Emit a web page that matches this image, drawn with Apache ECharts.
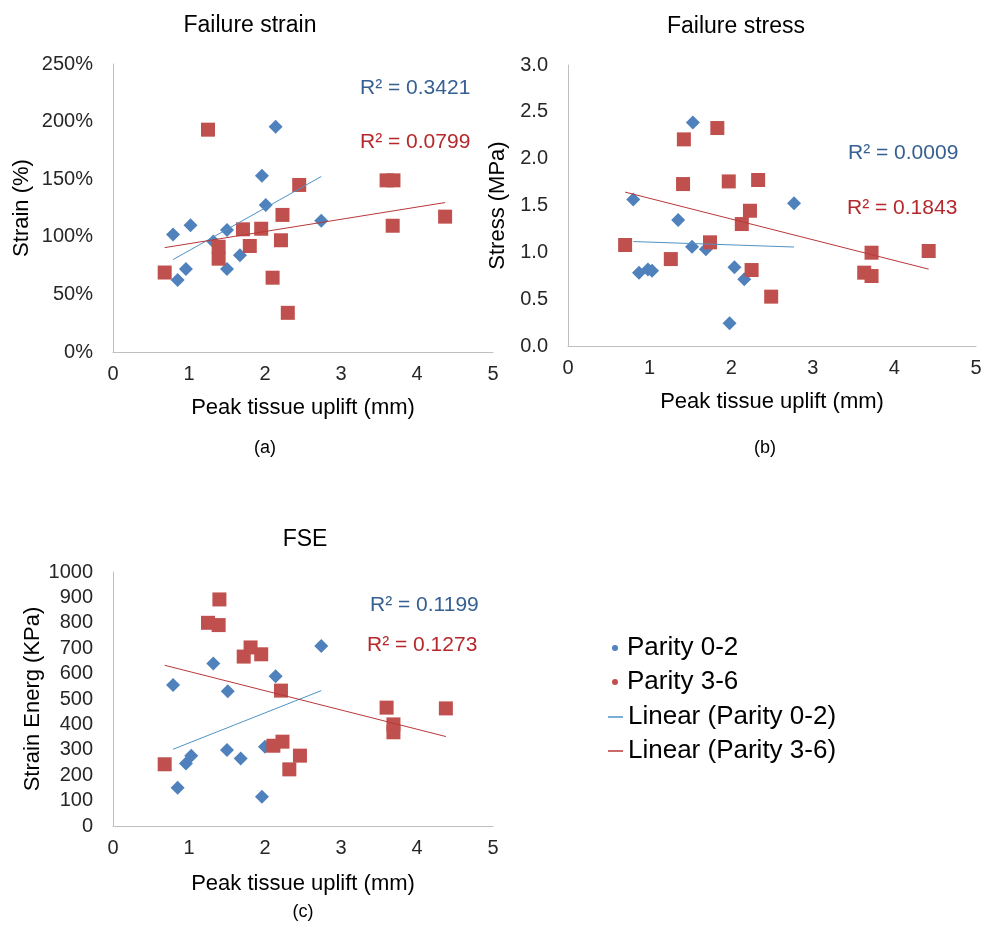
<!DOCTYPE html>
<html>
<head>
<meta charset="utf-8">
<script src="https://cdn.jsdelivr.net/npm/echarts@6/dist/echarts.min.js"></script>
<style>
  html, body { margin: 0; padding: 0; background: #fff; }
  #chart { width: 992px; height: 929px; }
</style>
</head>
<body>
<div id="chart"></div>
<script>
// Peak tissue uplift (mm) vs failure measures, two parity groups
const strainBlue = [[0.79,102],[1.02,110],[0.85,62.5],[0.96,72],[1.32,96],[1.50,106],[1.50,72],[1.67,84],[1.96,153],[2.01,127.6],[2.14,195.6],[2.74,114]];
const strainRed = [[0.68,69],[1.25,193],[1.39,91.4],[1.39,81],[1.71,106.5],[1.80,92],[1.95,107],[2.10,64.5],[2.21,97],[2.23,119],[2.30,34],[2.45,145],[3.60,149],[3.69,149],[3.68,109.6],[4.37,117.5]];

const stressBlue = [[0.80,1.565],[0.87,0.783],[0.98,0.818],[1.03,0.804],[1.35,1.345],[1.53,2.387],[1.52,1.06],[1.69,1.032],[1.98,0.242],[2.04,0.84],[2.16,0.712],[2.77,1.523]];
const stressRed = [[0.70,1.078],[1.26,0.928],[1.42,2.206],[1.41,1.729],[1.74,1.107],[1.83,2.327],[1.97,1.757],[2.13,1.302],[2.23,1.444],[2.25,0.811],[2.33,1.772],[2.49,0.527],[3.63,0.783],[3.72,0.747],[3.72,0.996],[4.42,1.014]];

const energyBlue = [[0.79,555],[0.85,151],[0.96,246],[1.03,277],[1.32,640],[1.51,531],[1.50,299],[1.68,266],[1.96,115],[2.00,312],[2.14,590],[2.74,709]];
const energyRed = [[0.68,243],[1.25,800],[1.40,892],[1.39,791],[1.72,667],[1.81,703],[1.95,676],[2.11,316],[2.23,332],[2.21,533],[2.32,223],[2.46,277],[3.60,466],[3.69,400],[3.69,369],[4.38,463]];

const panelTitles = ['Failure strain', 'Failure stress', 'FSE'];
const panelTags = ['(a)', '(b)', '(c)'];
const yNames = ['Strain (%)', 'Stress (MPa)', 'Strain Energ (KPa)'];
const xName = 'Peak tissue uplift (mm)';
const r2Blue = ['0.3421', '0.0009', '0.1199'];
const r2Red = ['0.0799', '0.1843', '0.1273'];
const seriesNames = ['Parity 0-2', 'Parity 3-6', 'Linear (Parity 0-2)', 'Linear (Parity 3-6)'];

const FONT = '"Liberation Sans", Arial, sans-serif';
const BLUE = '#4f81bd';
const RED = '#c0504d';
const BLUE_LINE = '#4f93c6';
const RED_LINE = '#b8383a';
const BLUE_TXT = '#376092';
const RED_TXT = '#b5282b';
const AXIS_GRAY = '#bfbfbf';

// least-squares line across the x-range of the points
function trend(points) {
  const n = points.length;
  let sx = 0, sy = 0;
  points.forEach(p => { sx += p[0]; sy += p[1]; });
  const mx = sx / n, my = sy / n;
  let sxy = 0, sxx = 0;
  points.forEach(p => { sxy += (p[0] - mx) * (p[1] - my); sxx += (p[0] - mx) * (p[0] - mx); });
  const b = sxy / sxx, a = my - b * mx;
  const xs = points.map(p => p[0]);
  const x0 = Math.min(...xs), x1 = Math.max(...xs);
  return [[x0, a + b * x0], [x1, a + b * x1]];
}

const grids = [
  { left: 113, top: 64, width: 380, height: 288 },
  { left: 568, top: 65, width: 408, height: 281 },
  { left: 113, top: 572, width: 380, height: 254 }
];

const yAxes = [
  { min: 0, max: 250, interval: 50, fmt: v => v + '%', gap: 80 },
  { min: 0, max: 3, interval: 0.5, fmt: v => v.toFixed(1), gap: 59 },
  { min: 0, max: 1000, interval: 100, fmt: v => String(v), gap: 69 }
];

const panelData = [[strainBlue, strainRed], [stressBlue, stressRed], [energyBlue, energyRed]];

const tickText = { fontFamily: FONT, fontSize: 20, color: '#262626' };
const nameText = { fontFamily: FONT, fontSize: 22, color: '#000' };

const xAxis = grids.map((g, i) => ({
  type: 'value', gridIndex: i, min: 0, max: 5, interval: 1,
  name: xName, nameLocation: 'middle', nameGap: i === 2 ? 47 : 45,
  nameTextStyle: nameText,
  axisLine: { lineStyle: { color: AXIS_GRAY, width: 1 } },
  axisTick: { show: false }, splitLine: { show: false },
  axisLabel: Object.assign({ margin: 12 }, tickText)
}));

const yAxis = grids.map((g, i) => ({
  type: 'value', gridIndex: i, min: yAxes[i].min, max: yAxes[i].max, interval: yAxes[i].interval,
  name: yNames[i], nameLocation: 'middle', nameGap: yAxes[i].gap, nameRotate: 90,
  nameTextStyle: nameText,
  axisLine: { show: true, lineStyle: { color: AXIS_GRAY, width: 1 } },
  axisTick: { show: false }, splitLine: { show: false },
  axisLabel: Object.assign({ margin: 20, formatter: yAxes[i].fmt }, tickText)
}));

const series = [];
panelData.forEach((pair, i) => {
  series.push({
    name: seriesNames[0], type: 'scatter', xAxisIndex: i, yAxisIndex: i,
    symbol: 'diamond', symbolSize: 14, itemStyle: { color: BLUE, opacity: 1 },
    data: pair[0], z: 2
  });
  series.push({
    name: seriesNames[1], type: 'scatter', xAxisIndex: i, yAxisIndex: i,
    symbol: 'rect', symbolSize: 14, itemStyle: { color: RED, opacity: 1 },
    data: pair[1], z: 3
  });
  series.push({
    name: seriesNames[2], type: 'line', xAxisIndex: i, yAxisIndex: i,
    symbol: 'none', silent: true, data: trend(pair[0]),
    lineStyle: { color: BLUE_LINE, width: 1 }, itemStyle: { color: BLUE_LINE }, z: 4
  });
  series.push({
    name: seriesNames[3], type: 'line', xAxisIndex: i, yAxisIndex: i,
    symbol: 'none', silent: true, data: trend(pair[1]),
    lineStyle: { color: RED_LINE, width: 1 }, itemStyle: { color: RED_LINE }, z: 4
  });
});

function txt(x, y, text, size, color, align) {
  return {
    type: 'text', x: x, y: y, silent: true,
    style: { text: text, fill: color, font: size + 'px ' + FONT, textAlign: align || 'center', textVerticalAlign: 'middle' }
  };
}

const graphics = [
  txt(250, 26, panelTitles[0], 23, '#000'),
  txt(736, 27, panelTitles[1], 23, '#000'),
  txt(305, 540, panelTitles[2], 23, '#000'),
  txt(265, 448, panelTags[0], 18, '#000'),
  txt(765, 448, panelTags[1], 18, '#000'),
  txt(303, 912, panelTags[2], 18, '#000'),
  txt(360, 88, 'R² = ' + r2Blue[0], 21, BLUE_TXT, 'left'),
  txt(360, 142, 'R² = ' + r2Red[0], 21, RED_TXT, 'left'),
  txt(848, 153, 'R² = ' + r2Blue[1], 21, BLUE_TXT, 'left'),
  txt(847, 208, 'R² = ' + r2Red[1], 21, RED_TXT, 'left'),
  txt(370, 605, 'R² = ' + r2Blue[2], 21, BLUE_TXT, 'left'),
  txt(367, 645, 'R² = ' + r2Red[2], 21, RED_TXT, 'left')
];

const legendText = { fontFamily: FONT, fontSize: 26, color: '#000' };

const chart = echarts.init(document.getElementById('chart'), null, { renderer: 'canvas' });
chart.setOption({
  animation: false,
  backgroundColor: '#fff',
  grid: grids.map(g => Object.assign({ containLabel: false }, g)),
  xAxis: xAxis,
  yAxis: yAxis,
  series: series,
  legend: [
    {
      data: [seriesNames[0], seriesNames[1]], orient: 'vertical', left: 612, top: 635, padding: 0,
      icon: 'circle', itemWidth: 6, itemHeight: 6, itemGap: 8, selectedMode: false,
      textStyle: Object.assign({ padding: [0, 0, 0, 4] }, legendText)
    },
    {
      data: [seriesNames[2], seriesNames[3]], orient: 'vertical', left: 608, top: 704, padding: 0,
      icon: 'rect', itemWidth: 15, itemHeight: 1.5, itemGap: 8, selectedMode: false, textStyle: legendText
    }
  ],
  graphic: graphics
});
</script>
</body>
</html>
